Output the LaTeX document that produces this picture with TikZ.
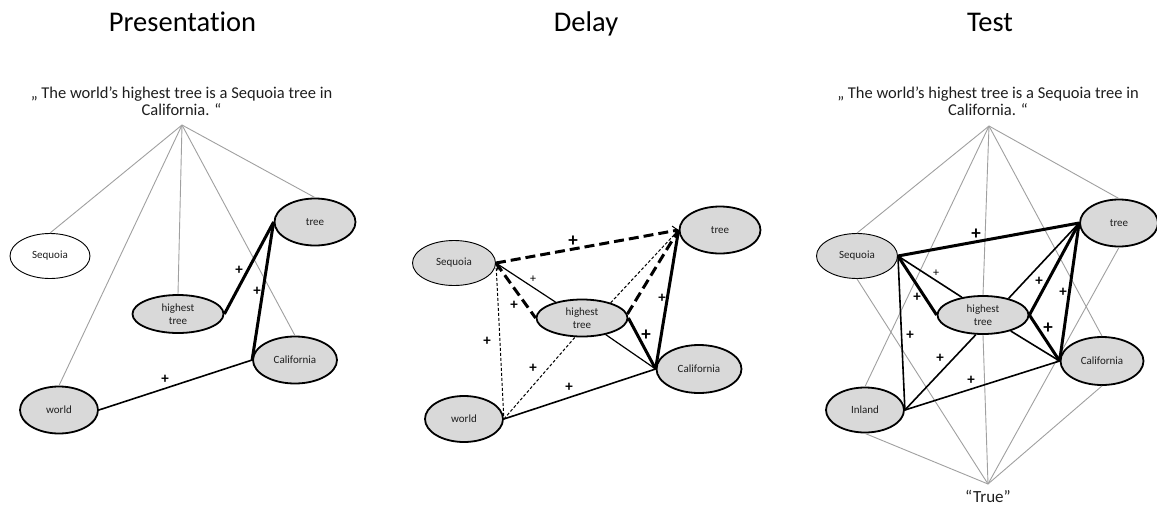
\documentclass[tikz,border=0pt]{standalone}
\usepackage{fontspec}
\setmainfont{Carlito}[Ligatures={NoCommon}]
\usetikzlibrary{shapes.geometric,arrows.meta}
\definecolor{ellfill}{RGB}{217,217,217}
\definecolor{hubgray}{RGB}{160,160,160}
\definecolor{txt}{RGB}{30,30,30}
\begin{document}
\begin{tikzpicture}[x=1pt,y=-1pt,
  ell/.style={ellipse,draw=black,line width=1.8pt,fill=ellfill,inner sep=0pt,
    font=\fontsize{11}{12.5}\selectfont,align=center,text=txt},
  thinell/.style={ell,line width=0.9pt},
  whiteell/.style={thinell,fill=white},
  title/.style={anchor=base,font=\fontsize{28.5}{30}\selectfont,text=black},
  sent/.style={anchor=base,font=\fontsize{16.5}{17}\selectfont,text=txt,inner sep=0pt},
  hubline/.style={draw=hubgray,line width=0.9pt},
  thinlink/.style={draw=black,line width=1.2pt},
  medlink/.style={draw=black,line width=1.6pt},
  thicklink/.style={draw=black,line width=3pt},
  thickdash/.style={draw=black,line width=3pt,dash pattern=on 10pt off 5pt},
  thindash/.style={draw=black,line width=1pt,dash pattern=on 3pt off 2pt},
  plus/.style={font=\bfseries\fontsize{15}{15}\selectfont,inner sep=0pt},
  bigplus/.style={font=\bfseries\fontsize{19}{19}\selectfont,inner sep=0pt},
  smallplus/.style={font=\fontsize{12}{12}\selectfont,inner sep=0pt},
  tip/.style={-{Straight Barb[length=5pt,width=10pt,line width=1pt]}}
]
\useasboundingbox (0,0) rectangle (1157,509);
\fill[white] (0,0) rectangle (1157,509);

% ---------- titles ----------
\node[title] (t1) at (182.5,31) {Presentation};
\node[title] (t2) at (586,31) {Delay};
\node[title] (t3) at (990,31) {Test};

% ================= Presentation =================
\node[sent] (ps1) at (181.5,98) {„ The world’s highest tree is a Sequoia tree in};
\node[sent] (ps2) at (181.5,115) {California. “};
\coordinate (phub) at (182,125);

\node[whiteell,minimum width=80pt,minimum height=45pt] (pseq) at (50,256) {Sequoia};
\node[ell,minimum width=91pt,minimum height=38pt] (phigh) at (178,314) {highest\\tree};
\node[ell,minimum width=81pt,minimum height=47pt] (ptree) at (315,222) {tree};
\node[ell,minimum width=84pt,minimum height=47pt] (pcal) at (295,360) {California};
\node[ell,minimum width=78pt,minimum height=47pt] (pworld) at (59,410) {world};

\draw[hubline] (phub) -- (pseq.north);
\draw[hubline] (phub) -- (pworld.north);
\draw[hubline] (phub) -- (phigh.north);
\draw[hubline] (phub) -- (pcal.north);
\draw[hubline] (phub) -- (ptree.north);

\draw[thicklink] (phigh.east) -- (ptree.west);
\draw[thicklink] (pcal.west) -- (ptree.west);
\draw[medlink] (pworld.east) -- (pcal.west);

\node[plus] (pp1) at (239,270) {+};
\node[plus] (pp2) at (257,291) {+};
\node[plus] (pp3) at (165,379) {+};

% ================= Delay =================
\node[thinell,minimum width=83pt,minimum height=45pt] (dseq) at (454,263) {Sequoia};
\node[ell,minimum width=81pt,minimum height=47pt] (dtree) at (720,230) {tree};
\node[ell,minimum width=91pt,minimum height=37pt] (dhigh) at (582,318) {highest\\tree};
\node[ell,minimum width=85pt,minimum height=48pt] (dcal) at (699,369) {California};
\node[ell,minimum width=78pt,minimum height=46pt] (dworld) at (464,419) {world};

\draw[thickdash,tip] (dseq.east) -- (dtree.west);
\draw[thinlink,tip] (dhigh.149) -- (dseq.east);
\draw[thickdash] (dseq.east) -- (dhigh.west);
\draw[thindash] (dseq.east) -- (dworld.east);
\draw[thindash] (dworld.east) -- (dhigh.250);
\draw[medlink] (dworld.east) -- (dcal.west);
\draw[thinlink] (dhigh.-35) -- (dcal.west);
\draw[thicklink] (dhigh.east) -- (dcal.west);
\draw[thindash] (dhigh.28) -- (dtree.west);
\draw[thickdash] (dhigh.5) -- (dtree.west);
\draw[thicklink] (dcal.west) -- (dtree.west);

\node[bigplus] (dp1) at (573,241) {+};
\node[smallplus] (dp2) at (533,279) {+};
\node[plus] (dp3) at (514,305) {+};
\node[plus] (dp4) at (487,341) {+};
\node[plus] (dp5) at (533,368) {+};
\node[plus] (dp6) at (569,387) {+};
\node[plus] (dp7) at (662,298) {+};
\node[bigplus] (dp8) at (646,335) {+};

% ================= Test =================
\node[sent] (ts1) at (988,98) {„ The world’s highest tree is a Sequoia tree in};
\node[sent] (ts2) at (988,115) {California. “};
\coordinate (ttop) at (989,126);
\coordinate (tbot) at (988,484);
\node[anchor=base,font=\fontsize{17}{18}\selectfont,text=txt,inner sep=0pt] (ttrue) at (988,502) {“True”};

\node[thinell,minimum width=81pt,minimum height=45pt] (tseq) at (857,256) {Sequoia};
\node[ell,minimum width=78pt,minimum height=47pt] (ttree) at (1119,223) {tree};
\node[ell,minimum width=91pt,minimum height=38pt] (thigh) at (983,315) {highest\\tree};
\node[ell,minimum width=83pt,minimum height=48pt] (tcal) at (1102,361) {California};
\node[ell,minimum width=78pt,minimum height=45pt] (tinl) at (865,410) {Inland};

\foreach \n in {tseq,tinl,thigh,tcal,ttree}{
  \draw[hubline] (ttop) -- (\n.north);
  \draw[hubline] (tbot) -- (\n.south);
}

\draw[thicklink] (tseq.east) -- (ttree.west);
\draw[medlink] (tseq.east) -- (thigh.140);
\draw[thicklink] (tseq.east) -- (thigh.west);
\draw[medlink] (tseq.east) -- (tinl.east);
\draw[medlink] (tinl.east) -- (thigh.250);
\draw[medlink] (tinl.east) -- (tcal.west);
\draw[medlink] (thigh.33) -- (ttree.west);
\draw[thicklink] (thigh.east) -- (ttree.west);
\draw[thicklink] (thigh.east) -- (tcal.west);
\draw[medlink] (thigh.-30) -- (tcal.west);
\draw[thicklink] (tcal.west) -- (ttree.west);

\node[bigplus] (tp1) at (976,234) {+};
\node[smallplus] (tp2) at (936,273) {+};
\node[plus] (tp3) at (917,297) {+};
\node[plus] (tp4) at (910,335) {+};
\node[plus] (tp5) at (940,358) {+};
\node[plus] (tp6) at (971,380) {+};
\node[plus] (tp7) at (1039,281) {+};
\node[plus] (tp8) at (1063,292) {+};
\node[bigplus] (tp9) at (1048,328) {+};
\end{tikzpicture}
\end{document}
